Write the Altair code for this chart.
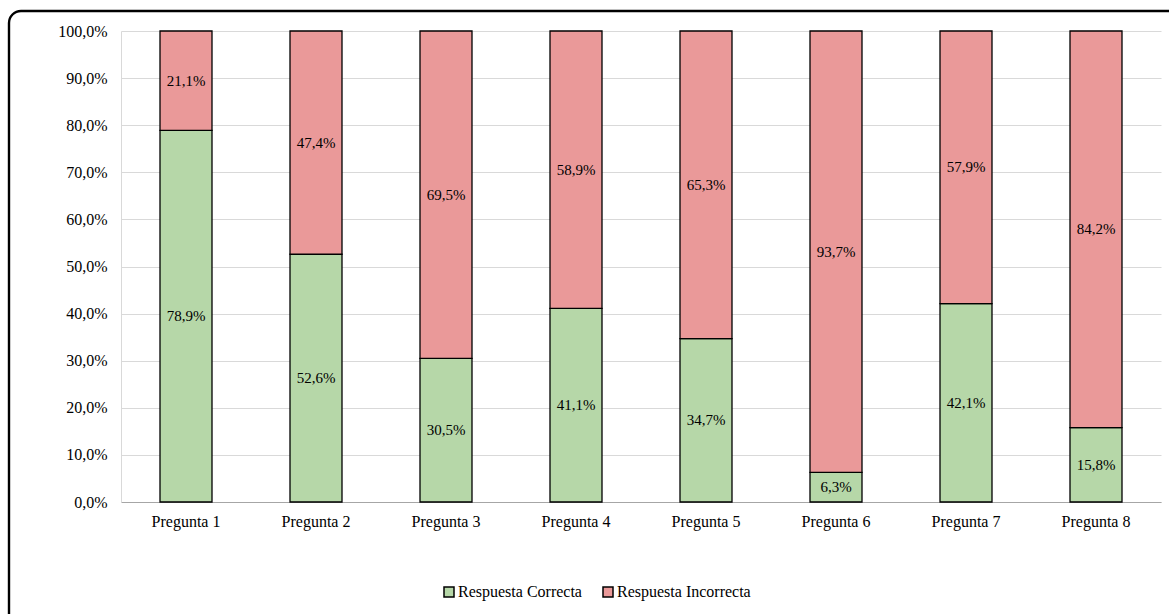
import altair as alt
import pandas as pd

preguntas = ["Pregunta 1", "Pregunta 2", "Pregunta 3", "Pregunta 4",
             "Pregunta 5", "Pregunta 6", "Pregunta 7", "Pregunta 8"]
correcta = [78.9, 52.6, 30.5, 41.1, 34.7, 6.3, 42.1, 15.8]
incorrecta = [21.1, 47.4, 69.5, 58.9, 65.3, 93.7, 57.9, 84.2]
series = ["Respuesta Correcta", "Respuesta Incorrecta"]
colores = ["#B6D7A8", "#EA9999"]

rows = []
for p, c, i in zip(preguntas, correcta, incorrecta):
    rows.append({"pregunta": p, "serie": series[0], "orden": 0, "valor": c / 100})
    rows.append({"pregunta": p, "serie": series[1], "orden": 1, "valor": i / 100})
df = pd.DataFrame(rows)

FONT = "Liberation Serif"
W, H = 1040, 471

base = alt.Chart(df).transform_stack(
    stack="valor", groupby=["pregunta"], as_=["y0", "y1"],
    sort=[alt.SortField("orden", order="ascending")],
).transform_calculate(
    mid="(datum.y0 + datum.y1) / 2",
    etiqueta="replace(format(datum.valor, '.1%'), '.', ',')",
)

x_enc = alt.X("pregunta:N", sort=preguntas, title=None,
              scale=alt.Scale(paddingInner=0.6, paddingOuter=0.3),
              axis=alt.Axis(labelAngle=0, labelFont=FONT, labelFontSize=16,
                            labelColor="#000000", labelPadding=11,
                            ticks=False, domainColor="#A6A6A6", grid=False))

bars = base.mark_bar(stroke="#000000", strokeWidth=1.3).encode(
    x=x_enc,
    y=alt.Y("y0:Q", title=None,
            scale=alt.Scale(domain=[0, 1], nice=False),
            axis=alt.Axis(values=[i / 10 for i in range(11)],
                          labelExpr="replace(format(datum.value, '.1%'), '.', ',')",
                          labelFont=FONT, labelFontSize=16, labelColor="#000000",
                          labelPadding=14, ticks=False, domainColor="#D9D9D9",
                          gridColor="#D9D9D9", gridWidth=1)),
    y2="y1:Q",
    color=alt.Color("serie:N", scale=alt.Scale(domain=series, range=colores),
                    legend=alt.Legend(title=None, orient="none", direction="horizontal",
                                      legendX=320, legendY=553,
                                      symbolType="square", symbolSize=100,
                                      symbolStrokeColor="#000000", symbolStrokeWidth=1.5,
                                      symbolOpacity=1,
                                      labelFont=FONT, labelFontSize=16, labelColor="#000000",
                                      labelOffset=1, columnPadding=18)),
)

labels = base.mark_text(font=FONT, fontSize=15, color="#000000").encode(
    x=alt.X("pregunta:N", sort=preguntas),
    y=alt.Y("mid:Q"),
    text="etiqueta:N",
)

frame = alt.Chart(alt.Data(values=[{}])).mark_rect(
    fill=None, stroke="#000000", strokeWidth=2.4, cornerRadius=12, clip=False
).encode(
    x=alt.value(-112), y=alt.value(-20),
    x2=alt.value(W + 60), y2=alt.value(H + 180),
)

chart = alt.layer(frame, bars, labels).properties(
    width=W, height=H,
    autosize=alt.AutoSizeParams(type="none"),
    padding={"left": 121, "top": 31, "right": 8, "bottom": 112},
    background="#FFFFFF",
).configure_view(stroke=None)

chart.save("out.html", embed_options={"renderer": "svg", "actions": False})
